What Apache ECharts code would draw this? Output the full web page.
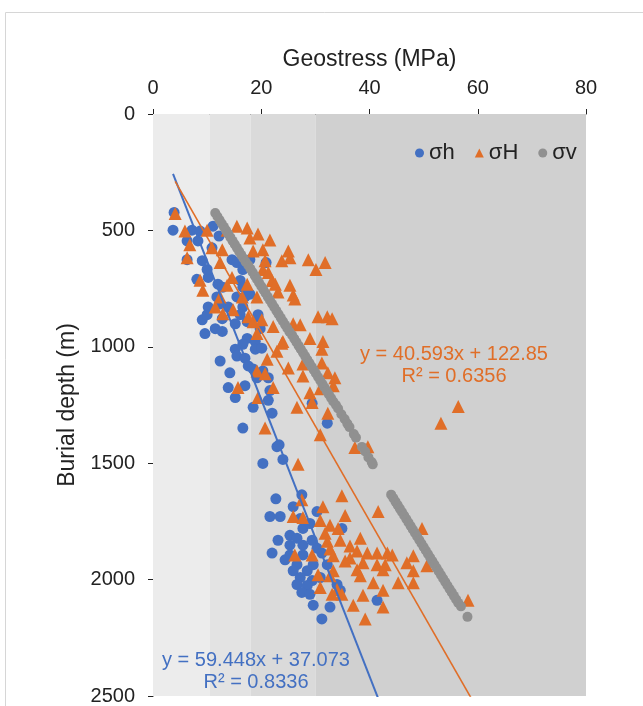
<!DOCTYPE html>
<html>
<head>
<meta charset="utf-8">
<script src="https://cdn.jsdelivr.net/npm/echarts@6/dist/echarts.min.js"></script>
<style>
  html, body { margin: 0; padding: 0; background: #fff; }
  #main { width: 643px; height: 706px; }
</style>
</head>
<body>
<div id="main"></div>
<script>
// tick labels
var stressTicks = [0, 20, 40, 60, 80];
var depthTicks = [0, 500, 1000, 1500, 2000, 2500];

// background bands (MPa)
var bandEdges = [0, 10.5, 18, 30, 80];
var bandColors = ['#ececec', '#e3e3e3', '#dadada', '#d0d0d0'];

// σh: [stress MPa, depth m]
var sigmaHmin = [
  [3.9,423],[3.7,499],[7.2,499],[8.7,503],[11.1,482],[6.3,545],[8.3,545],[12.2,524],[10.9,575],[6.3,626],
  [9.1,630],[14.6,626],[10.2,702],[8.1,710],[12.0,731],[12.9,744],[16.1,715],[11.8,786],[10.2,829],[15.5,786],
  [17.0,786],[13.9,829],[9.1,884],[9.6,943],[11.5,922],[12.8,934],[15.2,901],[17.4,964],[16.6,989],[15.2,1010],
  [15.5,1040],[12.4,1061],[17.0,1049],[14.2,1112],[17.6,1082],[13.9,1175],[17.0,1167],[15.2,1218],[18.5,1260],[16.6,1349],
  [19.2,1133],[17.4,892],[19.4,871],[19.8,922],[18.9,977],[18.9,1010],[20.1,1006],[18.5,1095],[20.3,1104],[21.3,1133],
  [21.6,1188],[21.3,1230],[22.0,1285],[32.2,1328],[29.4,1243],[15.5,638],[16.6,668],[17.9,626],[20.9,638],[16.6,744],
  [19.4,862],[10.0,668],[17.9,774],[12.4,816],[16.6,829],[10.0,862],[12.8,879],[16.1,862],
  [20.3,1501],[22.9,1429],[24.0,1484],[23.3,1421],
  [22.7,1653],[27.5,1636],[25.9,1687],[21.6,1729],[23.5,1729],[30.3,1708],[27.2,1738],[27.7,1780],[25.3,1810],[23.1,1831],
  [34.9,1780],[25.3,1852],[27.7,1852],[29.4,1831],[30.3,1865],[22.0,1886],[25.3,1894],[27.7,1894],[31.2,1886],[26.6,1936],
  [25.9,1962],[28.5,1962],[29.6,1936],[32.2,1936],[27.2,1991],[29.4,2004],[26.6,2021],[28.5,2025],[34.0,2021],[27.5,2055],
  [29.0,2063],[34.6,2046],[29.6,2110],[32.7,2118],[31.2,2169],[41.4,2089],[26.6,1822],[24.4,1915],[30.9,1991],[29.0,1759]
];

// σH
var sigmaHmax = [
  [4.1,427],[5.9,503],[10.0,499],[6.8,562],[10.9,575],[12.8,583],[6.3,617],[12.4,638],[14.6,702],[8.7,714],
  [9.2,757],[13.7,736],[17.4,731],[12.4,786],[16.5,786],[11.5,829],[12.9,858],[14.8,841],[17.6,871],[15.5,482],
  [17.4,490],[13.7,499],[17.9,533],[19.4,516],[21.6,541],[20.3,583],[18.5,588],[25.0,588],[25.3,617],[23.8,630],
  [28.7,626],[31.8,638],[30.1,668],[20.7,630],[20.3,668],[21.3,681],[22.0,715],[22.6,731],[25.3,736],[23.1,765],
  [25.9,778],[19.2,786],[26.2,795],[30.5,871],[32.2,871],[33.1,879],[18.5,892],[20.1,884],[22.2,913],[19.2,943],
  [25.9,901],[27.2,905],[29.0,964],[23.8,985],[31.4,977],[22.9,1019],[31.2,1010],[21.1,1053],[25.0,1091],[27.7,1074],
  [31.2,1070],[20.7,1116],[27.7,1125],[32.3,1112],[33.6,1133],[22.2,1175],[33.3,1167],[30.9,1180],[19.4,1218],[29.0,1197],
  [29.4,1239],[26.6,1260],[32.3,1285],[20.7,1349],[30.9,1378],[15.7,1175],[19.2,1104],[37.3,1433],[39.7,1429],[56.4,1256],
  [53.2,1328],[24.0,977],
  [26.8,1505],[34.9,1640],[41.6,1708],[27.5,1657],[31.4,1687],[25.9,1729],[27.7,1733],[30.9,1746],[35.5,1725],[32.7,1767],
  [34.2,1780],[49.7,1780],[31.8,1801],[34.6,1831],[38.3,1822],[32.2,1835],[36.4,1856],[32.7,1869],[37.7,1877],[39.6,1886],
  [41.4,1886],[43.3,1886],[44.2,1894],[26.2,1894],[29.4,1894],[33.3,1898],[48.1,1898],[36.4,1907],[38.8,1928],[41.4,1936],
  [42.9,1936],[46.9,1928],[50.6,1941],[33.3,1962],[37.7,1958],[42.5,1958],[48.1,1962],[30.5,1979],[32.7,1983],[38.3,1983],
  [40.7,2013],[45.3,2013],[48.1,2013],[30.9,2034],[34.0,2042],[42.5,2046],[38.8,2067],[33.1,2063],[34.9,2063],[37.0,2110],
  [42.5,2118],[39.2,2169],[58.2,2089],[35.5,1920]
];

// σv
var sigmaV = [
  [11.5,425],[11.9,440],[12.3,455],[12.7,470],[13.1,485],[13.5,500],[13.9,515],[14.3,530],[14.7,545],[15.1,560],
  [15.5,575],[15.9,590],[16.3,605],[16.7,620],[17.1,635],[17.6,650],[18.0,665],[18.4,680],[18.8,695],[19.2,710],
  [19.6,725],[20.0,740],[20.4,755],[20.8,770],[21.2,785],[21.6,800],[22.0,815],[22.4,830],[22.8,845],[23.2,860],
  [23.6,875],[24.0,890],[24.4,905],[24.8,920],[25.2,935],[25.7,950],[26.1,965],[26.5,980],[26.9,995],[27.3,1010],
  [27.7,1025],[28.1,1040],[28.5,1055],[28.9,1070],[29.3,1085],[29.7,1100],[30.1,1115],[30.5,1130],[30.9,1145],[31.3,1160],
  [31.7,1175],[32.1,1190],[32.5,1205],[32.9,1220],[33.3,1235],[33.8,1250],[34.2,1265],
  [34.8,1290],[35.4,1310],[35.9,1330],[36.3,1345],[37.1,1375],[37.5,1390],[38.6,1430],[39.2,1450],[39.8,1475],[40.4,1495],[40.6,1505],
  [44.0,1635],[44.4,1650],[44.8,1665],[45.2,1680],[45.6,1695],[46.0,1710],[46.4,1725],[46.8,1740],[47.2,1755],[47.6,1770],
  [48.0,1785],[48.4,1800],[48.8,1815],[49.2,1830],[49.6,1845],[50.0,1860],[50.4,1875],[50.8,1890],[51.2,1905],[51.6,1920],
  [52.0,1935],[52.4,1950],[52.8,1965],[53.2,1980],[53.6,1995],[54.0,2010],[54.4,2025],[54.8,2040],[55.2,2055],[55.6,2070],
  [56.0,2085],[56.4,2100],[56.9,2115],[58.1,2160]
];

// linear trend lines: depth = slope * stress + intercept, drawn over [xStart, xEnd]
var fitMin = [59.448, 37.073, 3.7, 46];
var fitMax = [40.593, 122.85, 4.1, 62];

function fitLine(f) {
  return [[f[2], f[0] * f[2] + f[1]], [f[3], f[0] * f[3] + f[1]]];
}

var blue = '#4370c2';
var orange = '#e06e28';
var gray = '#909090';
var font = 'Liberation Sans, Arial, sans-serif';

var chart = echarts.init(document.getElementById('main'));

function eqText(x, y, text, color) {
    return {
        type: 'text', x: x, y: y, z: 10,
        style: { text: text, fill: color, font: '20px ' + font, align: 'center', verticalAlign: 'middle' }
    };
}

var option = {
    animation: false,
    backgroundColor: '#fff',
    grid: {
        left: 153,
        top: 114,
        width: 433,
        height: 591
    },
    graphic: [{
        type: 'rect',
        z: -10,
        shape: { x: 5.5, y: 12.5, width: 700, height: 800 },
        style: { fill: 'none', stroke: '#d6d6d6', lineWidth: 1 }
    },
        eqText(454, 354, 'y = 40.593x + 122.85', orange),
        eqText(454, 376, 'R² = 0.6356', orange),
        eqText(256, 660, 'y = 59.448x + 37.073', blue),
        eqText(256, 682, 'R² = 0.8336', blue)
    ],
    legend: {
        data: ['σh', 'σH', 'σv'],
        left: 410,
        top: 137,
        itemWidth: 9,
        itemHeight: 9,
        itemGap: 20,
        textStyle: { fontFamily: font, fontSize: 22, color: '#222' }
    },
    xAxis: {
        type: 'value',
        position: 'top',
        min: stressTicks[0],
        max: stressTicks[stressTicks.length - 1],
        interval: stressTicks[1] - stressTicks[0],
        name: 'Geostress (MPa)',
        nameLocation: 'middle',
        nameGap: 43,
        nameTextStyle: { fontFamily: font, fontSize: 23, color: '#222' },
        axisLine: { show: true, lineStyle: { color: '#222', width: 1 } },
        axisTick: { show: true, length: 5, lineStyle: { color: '#222' } },
        axisLabel: { fontFamily: font, fontSize: 20, color: '#222', margin: 16 },
        splitLine: { show: false }
    },
    yAxis: {
        type: 'value',
        inverse: true,
        min: depthTicks[0],
        max: depthTicks[depthTicks.length - 1],
        interval: depthTicks[1] - depthTicks[0],
        name: 'Burial depth (m)',
        nameLocation: 'middle',
        nameRotate: 90,
        nameGap: 72,
        nameTextStyle: { fontFamily: font, fontSize: 23, color: '#222' },
        axisLine: { show: true, lineStyle: { color: '#222', width: 1 } },
        axisTick: { show: true, length: 5, lineStyle: { color: '#222' } },
        axisLabel: {
            fontFamily: font, fontSize: 20, color: '#222', margin: 18,
            formatter: function (v) { return String(v); }
        },
        splitLine: { show: false }
    },
    series: [{
        name: 'bands',
        type: 'scatter',
        data: [],
        z: 0,
        silent: true,
        markArea: {
            silent: true,
            data: bandColors.map(function (c, i) {
                return [{ xAxis: bandEdges[i], itemStyle: { color: c } }, { xAxis: bandEdges[i + 1] }];
            })
        }
    }, {
        name: 'σh',
        type: 'scatter',
        symbol: 'circle',
        symbolSize: 11,
        itemStyle: { color: blue, opacity: 1 },
        data: sigmaHmin
    }, {
        name: 'σH',
        type: 'scatter',
        symbol: 'triangle',
        symbolSize: 13,
        itemStyle: { color: orange, opacity: 1 },
        data: sigmaHmax
    }, {
        name: 'σv',
        type: 'scatter',
        symbol: 'circle',
        symbolSize: 10,
        itemStyle: { color: gray, opacity: 1 },
        data: sigmaV
    }, {
        name: 'fitMin',
        type: 'line',
        data: fitLine(fitMin),
        symbol: 'none',
        z: 5,
        clip: true,
        lineStyle: { color: blue, width: 2 },
        silent: true
    }, {
        name: 'fitMax',
        type: 'line',
        data: fitLine(fitMax),
        symbol: 'none',
        z: 5,
        clip: true,
        lineStyle: { color: orange, width: 1.6 },
        silent: true
    }]
};

chart.setOption(option);
</script>
</body>
</html>
